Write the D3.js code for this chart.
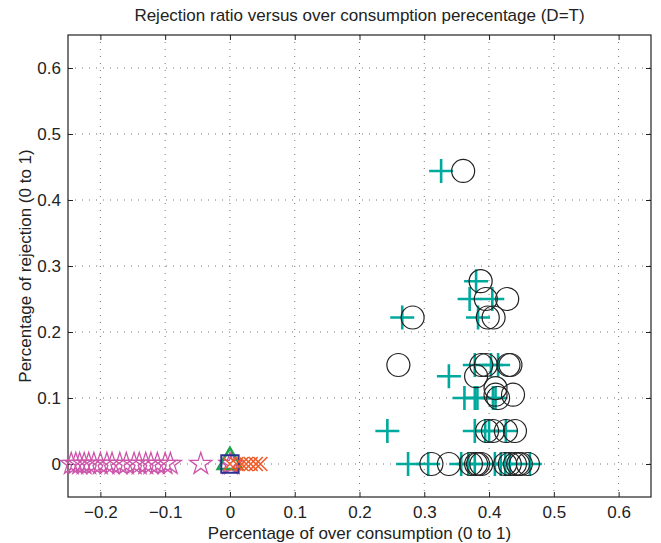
<!DOCTYPE html>
<html>
<head>
<meta charset="utf-8">
<script src="https://cdn.jsdelivr.net/npm/d3@7"></script>
<style>
  body { margin: 0; background: #fff; }
  text { font-family: "Liberation Sans", Arial, sans-serif; fill: #222; }
</style>
</head>
<body>
<div id="chart"></div>
<script>
// chart values
var xTicks = [-0.2, -0.1, 0, 0.1, 0.2, 0.3, 0.4, 0.5, 0.6]
var yTicks = [0, 0.1, 0.2, 0.3, 0.4, 0.5, 0.6]

var starX = [-0.245, -0.238, -0.232, -0.225, -0.218, -0.21, -0.2, -0.19, -0.182, -0.17, -0.16, -0.148, -0.14, -0.13, -0.122, -0.112, -0.1, -0.092, -0.045, 0.0, 0.003]
var starY = starX.map(function() { return 0 })

var triX = [0.0]
var triY = [0.0]
var squareX = [0.0]
var squareY = [0.0]

var crossX = [0.0, 0.01, 0.018, 0.025, 0.032, 0.04, 0.047]
var crossY = crossX.map(function() { return 0 })

var plusX = [0.326, 0.266, 0.38, 0.37, 0.405, 0.383,
             0.378, 0.403, 0.414, 0.338,
             0.362, 0.378, 0.382, 0.406, 0.41,
             0.243, 0.378, 0.394, 0.40, 0.426,
             0.275, 0.306, 0.357, 0.368, 0.378, 0.409, 0.418, 0.425, 0.432, 0.463]
var plusY = [0.444, 0.222, 0.277, 0.25, 0.25, 0.222,
             0.15, 0.15, 0.15, 0.133,
             0.1, 0.1, 0.1, 0.1, 0.1,
             0.05, 0.05, 0.05, 0.05, 0.05,
             0, 0, 0, 0, 0, 0, 0, 0, 0, 0]

var circX = [0.36, 0.282, 0.387, 0.395, 0.428, 0.398, 0.407,
             0.26, 0.388, 0.395, 0.43, 0.433, 0.38,
             0.41, 0.41, 0.414, 0.437,
             0.397, 0.406, 0.426, 0.44,
             0.311, 0.338, 0.372, 0.38, 0.383, 0.388, 0.425, 0.432, 0.44, 0.445, 0.449, 0.46]
var circY = [0.444, 0.222, 0.277, 0.25, 0.25, 0.222, 0.222,
             0.15, 0.15, 0.15, 0.15, 0.15, 0.133,
             0.115, 0.105, 0.1, 0.105,
             0.05, 0.05, 0.05, 0.05,
             0, 0, 0, 0, 0, 0, 0, 0, 0, 0, 0, 0]

var width = 661, height = 543
var mLeft = 68, mRight = 651, mTop = 35, mBottom = 497

var svg = d3.select("#chart").append("svg")
    .attr("width", width)
    .attr("height", height)

var x = d3.scaleLinear().domain([-0.25, 0.65]).range([mLeft, mRight])
var y = d3.scaleLinear().domain([-0.05, 0.65]).range([mBottom, mTop])

// dotted grid
svg.append("g").selectAll("line")
    .data(xTicks).enter().append("line")
        .attr("x1", function(d) { return x(d) }).attr("x2", function(d) { return x(d) })
        .attr("y1", mTop).attr("y2", mBottom)
        .attr("stroke", "#777").attr("stroke-width", 1).attr("stroke-dasharray", "1,6")
svg.append("g").selectAll("line")
    .data(yTicks).enter().append("line")
        .attr("y1", function(d) { return y(d) }).attr("y2", function(d) { return y(d) })
        .attr("x1", mLeft).attr("x2", mRight)
        .attr("stroke", "#777").attr("stroke-width", 1).attr("stroke-dasharray", "1,6")

// axes (ticks pointing inward, mirrored on top/right)
var fmt = function(d) { return d == 0 ? "0" : d3.format(".1f")(d).replace("-", "\u2212") }
svg.append("g").attr("transform", "translate(0," + mBottom + ")")
    .call(d3.axisBottom(x).tickValues(xTicks).tickSize(-5).tickPadding(9).tickFormat(fmt))
svg.append("g").attr("transform", "translate(0," + mTop + ")")
    .call(d3.axisTop(x).tickValues(xTicks).tickSize(-5).tickFormat(""))
svg.append("g").attr("transform", "translate(" + mLeft + ",0)")
    .call(d3.axisLeft(y).tickValues(yTicks).tickSize(-5).tickPadding(7).tickFormat(fmt))
svg.append("g").attr("transform", "translate(" + mRight + ",0)")
    .call(d3.axisRight(y).tickValues(yTicks).tickSize(-5).tickFormat(""))

svg.selectAll(".domain").remove()
svg.selectAll(".tick line").attr("stroke", "#222")
svg.selectAll(".tick text").style("font-size", "17px").attr("fill", "#222")
    .style("font-family", "Liberation Sans, Arial, sans-serif")

svg.append("rect")
    .attr("x", mLeft).attr("y", mTop)
    .attr("width", mRight - mLeft).attr("height", mBottom - mTop)
    .attr("fill", "none").attr("stroke", "#222").attr("stroke-width", 1.2)

// markers
var starPath = d3.symbol(d3.symbolStar, 150)()
svg.append("g").selectAll("path")
    .data(d3.range(starX.length)).enter().append("path")
        .attr("d", starPath)
        .attr("transform", function(i) { return "translate(" + x(starX[i]) + "," + y(starY[i]) + ")" })
        .attr("fill", "none").attr("stroke", "#cc55aa").attr("stroke-width", 1.3)

var triPath = d3.symbol(d3.symbolTriangle, 260)()
svg.append("g").selectAll("path")
    .data(d3.range(triX.length)).enter().append("path")
        .attr("d", triPath)
        .attr("transform", function(i) { return "translate(" + x(triX[i]) + "," + (y(triY[i]) - 2) + ")" })
        .attr("fill", "none").attr("stroke", "#1fa34a").attr("stroke-width", 2.5)

var sqPath = d3.symbol(d3.symbolSquare, 300)()
svg.append("g").selectAll("path")
    .data(d3.range(squareX.length)).enter().append("path")
        .attr("d", sqPath)
        .attr("transform", function(i) { return "translate(" + x(squareX[i]) + "," + y(squareY[i]) + ")" })
        .attr("fill", "none").attr("stroke", "#2b3190").attr("stroke-width", 2)

var cs = 7
svg.append("g").selectAll("path")
    .data(d3.range(crossX.length)).enter().append("path")
        .attr("d", "M" + (-cs) + "," + (-cs) + "L" + cs + "," + cs + "M" + (-cs) + "," + cs + "L" + cs + "," + (-cs))
        .attr("transform", function(i) { return "translate(" + x(crossX[i]) + "," + y(crossY[i]) + ")" })
        .attr("fill", "none").attr("stroke", "#f05a28").attr("stroke-width", 1.5)

var ps = 12
svg.append("g").selectAll("path")
    .data(d3.range(plusX.length)).enter().append("path")
        .attr("d", "M" + (-ps) + ",0L" + ps + ",0M0," + (-ps) + "L0," + ps)
        .attr("transform", function(i) { return "translate(" + x(plusX[i]) + "," + y(plusY[i]) + ")" })
        .attr("fill", "none").attr("stroke", "#00a99d").attr("stroke-width", 2.6)

svg.append("g").selectAll("circle")
    .data(d3.range(circX.length)).enter().append("circle")
        .attr("cx", function(i) { return x(circX[i]) })
        .attr("cy", function(i) { return y(circY[i]) })
        .attr("r", 11.5)
        .attr("fill", "none").attr("stroke", "#222").attr("stroke-width", 1.2)

// titles
svg.append("text")
    .attr("x", (mLeft + mRight) / 2).attr("y", 21)
    .attr("text-anchor", "middle").style("font-size", "17px")
    .text("Rejection ratio versus over consumption perecentage (D=T)")
svg.append("text")
    .attr("x", (mLeft + mRight) / 2).attr("y", 539)
    .attr("text-anchor", "middle").style("font-size", "17px")
    .text("Percentage of over consumption (0 to 1)")
svg.append("text")
    .attr("transform", "translate(31," + ((mTop + mBottom) / 2) + ") rotate(-90)")
    .attr("text-anchor", "middle").style("font-size", "17px")
    .text("Percentage of rejection (0 to 1)")
</script>
</body>
</html>
